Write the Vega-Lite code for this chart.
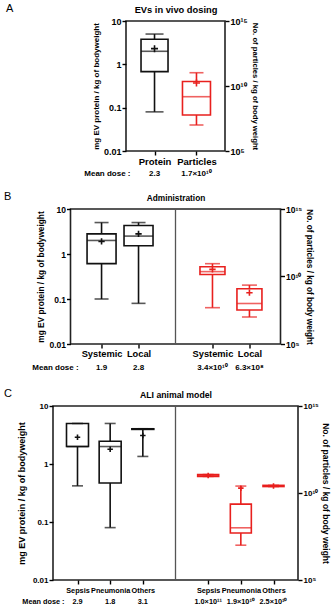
{
  "$schema": "https://vega.github.io/schema/vega-lite/v6.json",
  "background": "white",
  "padding": {"left": 3, "top": 2, "right": 0, "bottom": 0},
  "autosize": {"type": "pad"},
  "config": {
    "font": "Liberation Sans",
    "view": {"stroke": "#222", "strokeWidth": 1.6},
    "axis": {"grid": false, "labelColor": "#000", "titleColor": "#000", "tickColor": "#000", "domainColor": "#000"},
    "title": {"color": "#000"}
  },
  "datasets": {
    "a": [
      {"cat": "p:Protein", "kind": "protein", "min": 0.08, "q1": 0.68, "med": 2, "q3": 3.8, "max": 5, "mean": 2.3, "meanText": "2.3"},
      {"cat": "n:Particles", "kind": "particle", "min": 1e7, "q1": 5.9e7, "med": 1.5e9, "q3": 2.2e10, "max": 1.05e11, "mean": 1.7e10, "meanText": "1.7×10¹⁰"}
    ],
    "b": [
      {"cat": "p:Systemic", "kind": "protein", "min": 0.1, "q1": 0.61, "med": 2, "q3": 2.8, "max": 5, "mean": 1.9, "meanText": "1.9"},
      {"cat": "p:Local", "kind": "protein", "min": 0.08, "q1": 1.53, "med": 2.5, "q3": 4.3, "max": 5, "mean": 2.8, "meanText": "2.8"},
      {"cat": "sep", "kind": "sep"},
      {"cat": "n:Systemic", "kind": "particle", "min": 4.9e7, "q1": 1.4e10, "med": 2.3e10, "q3": 5.3e10, "max": 8.9e10, "mean": 3.4e10, "meanText": "3.4×10¹⁰"},
      {"cat": "n:Local", "kind": "particle", "min": 1e7, "q1": 3.3e7, "med": 1e8, "q3": 1.25e9, "max": 2.3e9, "mean": 6.3e8, "meanText": "6.3×10⁸"}
    ],
    "c": [
      {"cat": "p:Sepsis", "kind": "protein", "min": 0.42, "q1": 2, "med": 2, "q3": 5, "max": 5, "mean": 2.9, "meanText": "2.9"},
      {"cat": "p:Pneumonia", "kind": "protein", "min": 0.08, "q1": 0.47, "med": 2, "q3": 2.47, "max": 5, "mean": 1.8, "meanText": "1.8"},
      {"cat": "p:Others", "kind": "protein", "min": 1.35, "q1": 3.95, "med": 4, "q3": 4.05, "max": 4.05, "mean": 3.1, "meanText": "3.1"},
      {"cat": "sep", "kind": "sep"},
      {"cat": "n:Sepsis", "kind": "particle", "min": 9e10, "q1": 9e10, "med": 1e11, "q3": 1.15e11, "max": 1.15e11, "mean": 1e11, "meanText": "1.0×10¹¹"},
      {"cat": "n:Pneumonia", "kind": "particle", "min": 1e7, "q1": 5e7, "med": 1e8, "q3": 2.3e9, "max": 2.5e10, "mean": 1.9e10, "meanText": "1.9×10¹⁰"},
      {"cat": "n:Others", "kind": "particle", "min": 2.35e10, "q1": 2.35e10, "med": 2.5e10, "q3": 2.75e10, "max": 2.75e10, "mean": 2.5e10, "meanText": "2.5×10¹⁰"}
    ],
    "rowLabel": [
      {"row": "Mean dose :"}
    ]
  },
  "vconcat": [
    {
      "width": 99, "height": 130,
      "data": {"name": "a"},
      "title": {"text": "A", "anchor": "start", "frame": "group", "dx": -120, "dy": 9, "offset": 0, "fontSize": 11, "fontWeight": "normal"},
      "layer": [
        {
          "transform": [{"filter": "datum.kind == 'protein'"}],
          "encoding": {"x": {"field": "cat", "type": "nominal", "scale": {"type": "point", "domain": ["p:Protein", "n:Particles"], "padding": 0.68},
            "axis": {"values": ["p:Protein", "n:Particles"], "labelExpr": "slice(datum.label, 2)", "title": null, "domain": false, "tickSize": 4, "tickWidth": 1.4, "labelFontSize": 9.5, "labelFontWeight": "bold", "labelPadding": 1, "labelAngle": 0, "labelOverlap": false}}},
          "layer": [
            {"mark": {"type": "rule", "color": "#111", "strokeWidth": 1.6}, "encoding": {"y": {"field": "min", "type": "quantitative", "scale": {"type": "log", "domain": [0.01, 10], "nice": false}, "title": "mg EV protein / kg of bodyweight",
              "axis": {"orient": "left", "values": [0.01, 0.1, 1, 10], "format": "~g", "domain": false, "tickSize": 4, "tickWidth": 1.4, "labelFontSize": 9, "labelFontWeight": "bold", "labelPadding": 1, "titleFontSize": 8, "titleFontWeight": "bold", "titlePadding": 3}}, "y2": {"field": "max"}}},
            {"mark": {"type": "bar", "width": 27, "fill": "white", "stroke": "#111", "strokeWidth": 1.6}, "encoding": {"y": {"field": "q1", "type": "quantitative", "scale": {"type": "log", "domain": [0.01, 10], "nice": false}, "title": "mg EV protein / kg of bodyweight"}, "y2": {"field": "q3"}}},
            {"mark": {"type": "tick", "color": "#111", "size": 18, "thickness": 1.6}, "encoding": {"y": {"field": "min", "type": "quantitative", "scale": {"type": "log", "domain": [0.01, 10], "nice": false}, "title": "mg EV protein / kg of bodyweight"}}},
            {"mark": {"type": "tick", "color": "#111", "size": 18, "thickness": 1.6}, "encoding": {"y": {"field": "max", "type": "quantitative", "scale": {"type": "log", "domain": [0.01, 10], "nice": false}, "title": "mg EV protein / kg of bodyweight"}}},
            {"mark": {"type": "tick", "color": "#111", "size": 27, "thickness": 1.6}, "encoding": {"y": {"field": "med", "type": "quantitative", "scale": {"type": "log", "domain": [0.01, 10], "nice": false}, "title": "mg EV protein / kg of bodyweight"}}},
            {"mark": {"type": "point", "shape": "M-1,0H1M0,-1V1", "size": 49, "filled": false, "color": "#111", "strokeWidth": 1.6, "opacity": 1}, "encoding": {"y": {"field": "mean", "type": "quantitative", "scale": {"type": "log", "domain": [0.01, 10], "nice": false}, "title": "mg EV protein / kg of bodyweight"}}}
          ]
        },
        {
          "transform": [{"filter": "datum.kind == 'particle'"}],
          "encoding": {"x": {"field": "cat", "type": "nominal", "scale": {"type": "point", "domain": ["p:Protein", "n:Particles"], "padding": 0.68},
            "axis": {"orient": "top", "labels": false, "ticks": false, "domain": false, "minExtent": 0, "title": "EVs in vivo dosing", "titleFontSize": 9.3, "titleFontWeight": "bold", "titlePadding": 7}}},
          "layer": [
            {"mark": {"type": "rule", "color": "#e8201e", "strokeWidth": 1.6}, "encoding": {"y": {"field": "min", "type": "quantitative", "scale": {"type": "log", "domain": [1e5, 1e15], "nice": false}, "title": "No. of particles / kg of body weight",
              "axis": {"orient": "right", "values": [1e5, 1e10, 1e15], "labelExpr": "datum.value >= 1e15 ? '10¹⁵' : datum.value >= 1e10 ? '10¹⁰' : '10⁵'", "domain": false, "tickSize": 4, "tickWidth": 1.4, "labelFontSize": 9, "labelFontWeight": "bold", "labelPadding": 1, "titleFontSize": 7.7, "titleFontWeight": "bold", "titlePadding": 3}}, "y2": {"field": "max"}}},
            {"mark": {"type": "bar", "width": 28, "fill": "white", "stroke": "#e8201e", "strokeWidth": 1.6}, "encoding": {"y": {"field": "q1", "type": "quantitative", "scale": {"type": "log", "domain": [1e5, 1e15], "nice": false}, "title": "No. of particles / kg of body weight"}, "y2": {"field": "q3"}}},
            {"mark": {"type": "tick", "color": "#e8201e", "size": 14, "thickness": 1.6}, "encoding": {"y": {"field": "min", "type": "quantitative", "scale": {"type": "log", "domain": [1e5, 1e15], "nice": false}, "title": "No. of particles / kg of body weight"}}},
            {"mark": {"type": "tick", "color": "#e8201e", "size": 14, "thickness": 1.6}, "encoding": {"y": {"field": "max", "type": "quantitative", "scale": {"type": "log", "domain": [1e5, 1e15], "nice": false}, "title": "No. of particles / kg of body weight"}}},
            {"mark": {"type": "tick", "color": "#e8201e", "size": 28, "thickness": 1.6}, "encoding": {"y": {"field": "med", "type": "quantitative", "scale": {"type": "log", "domain": [1e5, 1e15], "nice": false}, "title": "No. of particles / kg of body weight"}}},
            {"mark": {"type": "point", "shape": "M-1,0H1M0,-1V1", "size": 49, "filled": false, "color": "#e8201e", "strokeWidth": 1.6, "opacity": 1}, "encoding": {"y": {"field": "mean", "type": "quantitative", "scale": {"type": "log", "domain": [1e5, 1e15], "nice": false}, "title": "No. of particles / kg of body weight"}}}
          ]
        }
      ],
      "resolve": {"scale": {"y": "independent"}, "axis": {"x": "independent"}}
    },
    {
      "width": 99, "height": 38,
      "view": {"stroke": null},
      "encoding": {"x": {"field": "cat", "type": "nominal", "scale": {"type": "point", "domain": ["p:Protein", "n:Particles"], "padding": 0.68}, "axis": null}},
      "layer": [
        {
          "data": {"name": "a"},
          "transform": [{"filter": "datum.kind != 'sep'"}],
          "mark": {"type": "text", "fontWeight": "bold", "fontSize": 8, "dy": -6, "color": "#000"},
          "encoding": {"text": {"field": "meanText"}}
        },
        {
          "data": {"name": "rowLabel"},
          "mark": {"type": "text", "fontWeight": "bold", "fontSize": 8, "dy": -6, "dx": -24, "align": "right", "color": "#000"},
          "encoding": {"x": {"datum": "p:Protein", "type": "nominal", "scale": {"type": "point", "domain": ["p:Protein", "n:Particles"], "padding": 0.68}, "axis": null}, "text": {"field": "row"}}
        }
      ]
    },
    {
      "width": 210, "height": 135,
      "data": {"name": "b"},
      "title": {"text": "B", "anchor": "start", "frame": "group", "dx": -66.5, "dy": 9, "offset": 0, "fontSize": 11, "fontWeight": "normal"},
      "layer": [
        {
          "transform": [{"filter": "datum.kind == 'sep'"}],
          "mark": {"type": "rule", "color": "#555", "strokeWidth": 1.3},
          "encoding": {"x": {"field": "cat", "type": "nominal", "scale": {"type": "point", "domain": ["p:Systemic", "p:Local", "sep", "n:Systemic", "n:Local"], "padding": 0.84}, "axis": null}}
        },
        {
          "transform": [{"filter": "datum.kind == 'protein'"}],
          "encoding": {"x": {"field": "cat", "type": "nominal", "scale": {"type": "point", "domain": ["p:Systemic", "p:Local", "sep", "n:Systemic", "n:Local"], "padding": 0.84},
            "axis": {"values": ["p:Systemic", "p:Local", "n:Systemic", "n:Local"], "labelExpr": "slice(datum.label, 2)", "title": null, "domain": false, "tickSize": 4, "tickWidth": 1.4, "labelFontSize": 9.3, "labelFontWeight": "bold", "labelPadding": 1, "labelAngle": 0, "labelOverlap": false}}},
          "layer": [
            {"mark": {"type": "rule", "color": "#111", "strokeWidth": 1.6}, "encoding": {"y": {"field": "min", "type": "quantitative", "scale": {"type": "log", "domain": [0.01, 10], "nice": false}, "title": "mg EV protein / kg of bodyweight",
              "axis": {"orient": "left", "values": [0.01, 0.1, 1, 10], "format": "~g", "domain": false, "tickSize": 4, "tickWidth": 1.4, "labelFontSize": 8.5, "labelFontWeight": "bold", "labelPadding": 1, "titleFontSize": 8.3, "titleFontWeight": "bold", "titlePadding": 3}}, "y2": {"field": "max"}}},
            {"mark": {"type": "bar", "width": 29, "fill": "white", "stroke": "#111", "strokeWidth": 1.6}, "encoding": {"y": {"field": "q1", "type": "quantitative", "scale": {"type": "log", "domain": [0.01, 10], "nice": false}, "title": "mg EV protein / kg of bodyweight"}, "y2": {"field": "q3"}}},
            {"mark": {"type": "tick", "color": "#111", "size": 14, "thickness": 1.6}, "encoding": {"y": {"field": "min", "type": "quantitative", "scale": {"type": "log", "domain": [0.01, 10], "nice": false}, "title": "mg EV protein / kg of bodyweight"}}},
            {"mark": {"type": "tick", "color": "#111", "size": 14, "thickness": 1.6}, "encoding": {"y": {"field": "max", "type": "quantitative", "scale": {"type": "log", "domain": [0.01, 10], "nice": false}, "title": "mg EV protein / kg of bodyweight"}}},
            {"mark": {"type": "tick", "color": "#111", "size": 29, "thickness": 1.6}, "encoding": {"y": {"field": "med", "type": "quantitative", "scale": {"type": "log", "domain": [0.01, 10], "nice": false}, "title": "mg EV protein / kg of bodyweight"}}},
            {"mark": {"type": "point", "shape": "M-1,0H1M0,-1V1", "size": 40, "filled": false, "color": "#111", "strokeWidth": 1.6, "opacity": 1}, "encoding": {"y": {"field": "mean", "type": "quantitative", "scale": {"type": "log", "domain": [0.01, 10], "nice": false}, "title": "mg EV protein / kg of bodyweight"}}}
          ]
        },
        {
          "transform": [{"filter": "datum.kind == 'particle'"}],
          "encoding": {"x": {"field": "cat", "type": "nominal", "scale": {"type": "point", "domain": ["p:Systemic", "p:Local", "sep", "n:Systemic", "n:Local"], "padding": 0.84},
            "axis": {"orient": "top", "labels": false, "ticks": false, "domain": false, "minExtent": 0, "title": "Administration", "titleFontSize": 8.3, "titleFontWeight": "bold", "titlePadding": 7}}},
          "layer": [
            {"mark": {"type": "rule", "color": "#e8201e", "strokeWidth": 1.6}, "encoding": {"y": {"field": "min", "type": "quantitative", "scale": {"type": "log", "domain": [1e5, 1e15], "nice": false}, "title": "No. of particles / kg of body weight",
              "axis": {"orient": "right", "values": [1e5, 1e10, 1e15], "labelExpr": "datum.value >= 1e15 ? '10¹⁵' : datum.value >= 1e10 ? '10¹⁰' : '10⁵'", "domain": false, "tickSize": 4, "tickWidth": 1.4, "labelFontSize": 8.5, "labelFontWeight": "bold", "labelPadding": 1, "titleFontSize": 8.2, "titleFontWeight": "bold", "titlePadding": 3}}, "y2": {"field": "max"}}},
            {"mark": {"type": "bar", "width": 25, "fill": "white", "stroke": "#e8201e", "strokeWidth": 1.6}, "encoding": {"y": {"field": "q1", "type": "quantitative", "scale": {"type": "log", "domain": [1e5, 1e15], "nice": false}, "title": "No. of particles / kg of body weight"}, "y2": {"field": "q3"}}},
            {"mark": {"type": "tick", "color": "#e8201e", "size": 15, "thickness": 1.6}, "encoding": {"y": {"field": "min", "type": "quantitative", "scale": {"type": "log", "domain": [1e5, 1e15], "nice": false}, "title": "No. of particles / kg of body weight"}}},
            {"mark": {"type": "tick", "color": "#e8201e", "size": 15, "thickness": 1.6}, "encoding": {"y": {"field": "max", "type": "quantitative", "scale": {"type": "log", "domain": [1e5, 1e15], "nice": false}, "title": "No. of particles / kg of body weight"}}},
            {"mark": {"type": "tick", "color": "#e8201e", "size": 25, "thickness": 1.6}, "encoding": {"y": {"field": "med", "type": "quantitative", "scale": {"type": "log", "domain": [1e5, 1e15], "nice": false}, "title": "No. of particles / kg of body weight"}}},
            {"mark": {"type": "point", "shape": "M-1,0H1M0,-1V1", "size": 40, "filled": false, "color": "#e8201e", "strokeWidth": 1.6, "opacity": 1}, "encoding": {"y": {"field": "mean", "type": "quantitative", "scale": {"type": "log", "domain": [1e5, 1e15], "nice": false}, "title": "No. of particles / kg of body weight"}}}
          ]
        }
      ],
      "resolve": {"scale": {"y": "independent"}, "axis": {"x": "independent"}}
    },
    {
      "width": 210, "height": 42,
      "view": {"stroke": null},
      "encoding": {"x": {"field": "cat", "type": "nominal", "scale": {"type": "point", "domain": ["p:Systemic", "p:Local", "sep", "n:Systemic", "n:Local"], "padding": 0.84}, "axis": null}},
      "layer": [
        {
          "data": {"name": "b"},
          "transform": [{"filter": "datum.kind != 'sep'"}],
          "mark": {"type": "text", "fontWeight": "bold", "fontSize": 8, "dy": -7, "color": "#000"},
          "encoding": {"text": {"field": "meanText"}}
        },
        {
          "data": {"name": "rowLabel"},
          "mark": {"type": "text", "fontWeight": "bold", "fontSize": 8, "dy": -7, "dx": -23, "align": "right", "color": "#000"},
          "encoding": {"x": {"datum": "p:Systemic", "type": "nominal", "scale": {"type": "point", "domain": ["p:Systemic", "p:Local", "sep", "n:Systemic", "n:Local"], "padding": 0.84}, "axis": null}, "text": {"field": "row"}}
        }
      ]
    },
    {
      "width": 245, "height": 174,
      "data": {"name": "c"},
      "title": {"text": "C", "anchor": "start", "frame": "group", "dx": -49, "dy": 9, "offset": 0, "fontSize": 11, "fontWeight": "normal"},
      "layer": [
        {
          "transform": [{"filter": "datum.kind == 'sep'"}],
          "mark": {"type": "rule", "color": "#555", "strokeWidth": 1.3},
          "encoding": {"x": {"field": "cat", "type": "nominal", "scale": {"type": "point", "domain": ["p:Sepsis", "p:Pneumonia", "p:Others", "sep", "n:Sepsis", "n:Pneumonia", "n:Others"], "padding": 0.75}, "axis": null}}
        },
        {
          "transform": [{"filter": "datum.kind == 'protein'"}],
          "encoding": {"x": {"field": "cat", "type": "nominal", "scale": {"type": "point", "domain": ["p:Sepsis", "p:Pneumonia", "p:Others", "sep", "n:Sepsis", "n:Pneumonia", "n:Others"], "padding": 0.75},
            "axis": {"values": ["p:Sepsis", "p:Pneumonia", "p:Others", "n:Sepsis", "n:Pneumonia", "n:Others"], "labelExpr": "slice(datum.label, 2)", "title": null, "domain": false, "tickSize": 4, "tickWidth": 1.4, "labelFontSize": 7.3, "labelFontWeight": "bold", "labelPadding": 2, "labelAngle": 0, "labelOverlap": false}}},
          "layer": [
            {"mark": {"type": "rule", "color": "#111", "strokeWidth": 1.6}, "encoding": {"y": {"field": "min", "type": "quantitative", "scale": {"type": "log", "domain": [0.01, 10], "nice": false}, "title": "mg EV protein / kg of bodyweight",
              "axis": {"orient": "left", "values": [0.01, 0.1, 1, 10], "format": "~g", "domain": false, "tickSize": 4, "tickWidth": 1.4, "labelFontSize": 8, "labelFontWeight": "bold", "labelPadding": 1, "titleFontSize": 9, "titleFontWeight": "bold", "titlePadding": 6}}, "y2": {"field": "max"}}},
            {"mark": {"type": "bar", "width": 22, "fill": "white", "stroke": "#111", "strokeWidth": 1.6}, "encoding": {"y": {"field": "q1", "type": "quantitative", "scale": {"type": "log", "domain": [0.01, 10], "nice": false}, "title": "mg EV protein / kg of bodyweight"}, "y2": {"field": "q3"}}},
            {"mark": {"type": "tick", "color": "#111", "size": 11, "thickness": 1.6}, "encoding": {"y": {"field": "min", "type": "quantitative", "scale": {"type": "log", "domain": [0.01, 10], "nice": false}, "title": "mg EV protein / kg of bodyweight"}}},
            {"mark": {"type": "tick", "color": "#111", "size": 11, "thickness": 1.6}, "encoding": {"y": {"field": "max", "type": "quantitative", "scale": {"type": "log", "domain": [0.01, 10], "nice": false}, "title": "mg EV protein / kg of bodyweight"}}},
            {"mark": {"type": "tick", "color": "#111", "size": 22, "thickness": 1.6}, "encoding": {"y": {"field": "med", "type": "quantitative", "scale": {"type": "log", "domain": [0.01, 10], "nice": false}, "title": "mg EV protein / kg of bodyweight"}}},
            {"mark": {"type": "point", "shape": "M-1,0H1M0,-1V1", "size": 30, "filled": false, "color": "#111", "strokeWidth": 1.6, "opacity": 1}, "encoding": {"y": {"field": "mean", "type": "quantitative", "scale": {"type": "log", "domain": [0.01, 10], "nice": false}, "title": "mg EV protein / kg of bodyweight"}}}
          ]
        },
        {
          "transform": [{"filter": "datum.kind == 'particle'"}],
          "encoding": {"x": {"field": "cat", "type": "nominal", "scale": {"type": "point", "domain": ["p:Sepsis", "p:Pneumonia", "p:Others", "sep", "n:Sepsis", "n:Pneumonia", "n:Others"], "padding": 0.75},
            "axis": {"orient": "top", "labels": false, "ticks": false, "domain": false, "minExtent": 0, "title": "ALI animal model", "titleFontSize": 8.7, "titleFontWeight": "bold", "titlePadding": 7}}},
          "layer": [
            {"mark": {"type": "rule", "color": "#e8201e", "strokeWidth": 1.6}, "encoding": {"y": {"field": "min", "type": "quantitative", "scale": {"type": "log", "domain": [1e5, 1e15], "nice": false}, "title": "No. of particles / kg of body weight",
              "axis": {"orient": "right", "values": [1e5, 1e10, 1e15], "labelExpr": "datum.value >= 1e15 ? '10¹⁵' : datum.value >= 1e10 ? '10¹⁰' : '10⁵'", "domain": false, "tickSize": 4, "tickWidth": 1.4, "labelFontSize": 8, "labelFontWeight": "bold", "labelPadding": 1, "titleFontSize": 8.5, "titleFontWeight": "bold", "titlePadding": 2}}, "y2": {"field": "max"}}},
            {"mark": {"type": "bar", "width": 21, "fill": "white", "stroke": "#e8201e", "strokeWidth": 1.6}, "encoding": {"y": {"field": "q1", "type": "quantitative", "scale": {"type": "log", "domain": [1e5, 1e15], "nice": false}, "title": "No. of particles / kg of body weight"}, "y2": {"field": "q3"}}},
            {"mark": {"type": "tick", "color": "#e8201e", "size": 11, "thickness": 1.6}, "encoding": {"y": {"field": "min", "type": "quantitative", "scale": {"type": "log", "domain": [1e5, 1e15], "nice": false}, "title": "No. of particles / kg of body weight"}}},
            {"mark": {"type": "tick", "color": "#e8201e", "size": 11, "thickness": 1.6}, "encoding": {"y": {"field": "max", "type": "quantitative", "scale": {"type": "log", "domain": [1e5, 1e15], "nice": false}, "title": "No. of particles / kg of body weight"}}},
            {"mark": {"type": "tick", "color": "#e8201e", "size": 21, "thickness": 1.6}, "encoding": {"y": {"field": "med", "type": "quantitative", "scale": {"type": "log", "domain": [1e5, 1e15], "nice": false}, "title": "No. of particles / kg of body weight"}}},
            {"mark": {"type": "point", "shape": "M-1,0H1M0,-1V1", "size": 30, "filled": false, "color": "#e8201e", "strokeWidth": 1.6, "opacity": 1}, "encoding": {"y": {"field": "mean", "type": "quantitative", "scale": {"type": "log", "domain": [1e5, 1e15], "nice": false}, "title": "No. of particles / kg of body weight"}}}
          ]
        }
      ],
      "resolve": {"scale": {"y": "independent"}, "axis": {"x": "independent"}}
    },
    {
      "width": 245, "height": 14,
      "view": {"stroke": null},
      "encoding": {"x": {"field": "cat", "type": "nominal", "scale": {"type": "point", "domain": ["p:Sepsis", "p:Pneumonia", "p:Others", "sep", "n:Sepsis", "n:Pneumonia", "n:Others"], "padding": 0.75}, "axis": null}},
      "layer": [
        {
          "data": {"name": "c"},
          "transform": [{"filter": "datum.kind != 'sep'"}],
          "mark": {"type": "text", "fontWeight": "bold", "fontSize": 7.3, "dy": 5, "color": "#000"},
          "encoding": {"text": {"field": "meanText"}}
        },
        {
          "data": {"name": "rowLabel"},
          "mark": {"type": "text", "fontWeight": "bold", "fontSize": 7.3, "dy": 5, "dx": -13, "align": "right", "color": "#000"},
          "encoding": {"x": {"datum": "p:Sepsis", "type": "nominal", "scale": {"type": "point", "domain": ["p:Sepsis", "p:Pneumonia", "p:Others", "sep", "n:Sepsis", "n:Pneumonia", "n:Others"], "padding": 0.75}, "axis": null}, "text": {"field": "row"}}
        }
      ]
    }
  ],
  "spacing": 10,
  "bounds": "flush",
  "center": true
}
